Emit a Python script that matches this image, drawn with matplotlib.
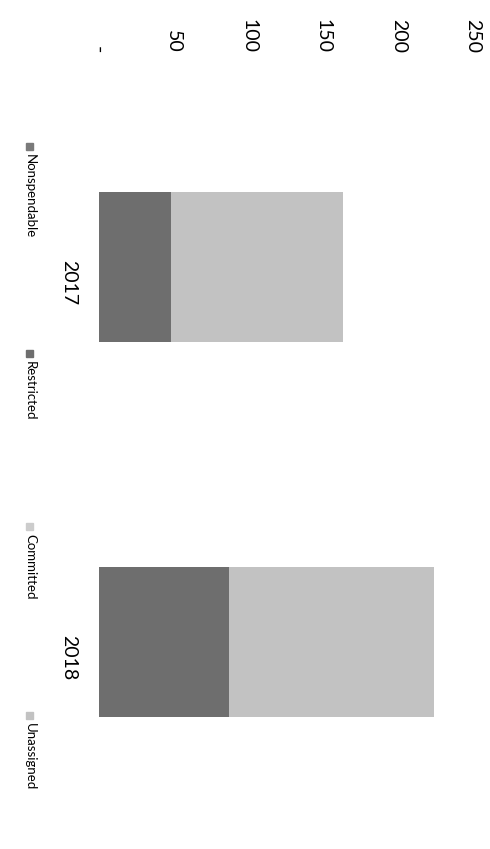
import numpy as np
import matplotlib.pyplot as plt
from matplotlib.patches import Rectangle

plt.rcParams['font.family'] = ['Lato', 'DejaVu Sans']

years = ['2017', '2018']
series_names = ['Nonspendable', 'Restricted', 'Committed', 'Unassigned']
nonspendable = [0, 0]
restricted = [48, 87]
committed = [0, 0]
unassigned = [115, 137]
series_vals = [nonspendable, restricted, committed, unassigned]
colors = ['#7a7a7a', '#6e6e6e', '#cccccc', '#c2c2c2']
ticks = [0, 50, 100, 150, 200, 250]
tick_labels = ['-', '50', '100', '150', '200', '250']

W, H = 490, 849
fig = plt.figure(figsize=(W / 100, H / 100), dpi=100)
ax = fig.add_axes([99 / W, 1 - 829.5 / H, (473 - 99) / W, 750 / H])

pos = np.arange(len(years))
left = np.zeros(len(years))
for name, vals, col in zip(series_names, series_vals, colors):
    ax.barh(pos, vals, left=left, height=0.4, color=col)
    left += np.array(vals)

ax.set_xlim(0, 250)
ax.set_ylim(1.5, -0.5)
ax.xaxis.tick_top()
ax.set_xticks(ticks)
ax.set_xticklabels(tick_labels, rotation=-90, fontsize=14)
ax.tick_params(axis='x', length=0, pad=19)
ax.set_yticks(pos)
ax.set_yticklabels(years, rotation=-90, fontsize=14)
ax.tick_params(axis='y', length=0, pad=16)
for s in ax.spines.values():
    s.set_visible(False)

# legend drawn by hand, rotated like the rest of the page
leg_y = [143, 350, 523, 712]
for name, col, y in zip(series_names, colors, leg_y):
    fig.add_artist(Rectangle((26 / W, 1 - (y + 7) / H), 7 / W, 7 / H,
                             transform=fig.transFigure, color=col))
    fig.text(30 / W, 1 - (y + 11) / H, name, rotation=-90, ha='center',
             va='top', fontsize=9.5)

fig.savefig('out.png', dpi=100)
